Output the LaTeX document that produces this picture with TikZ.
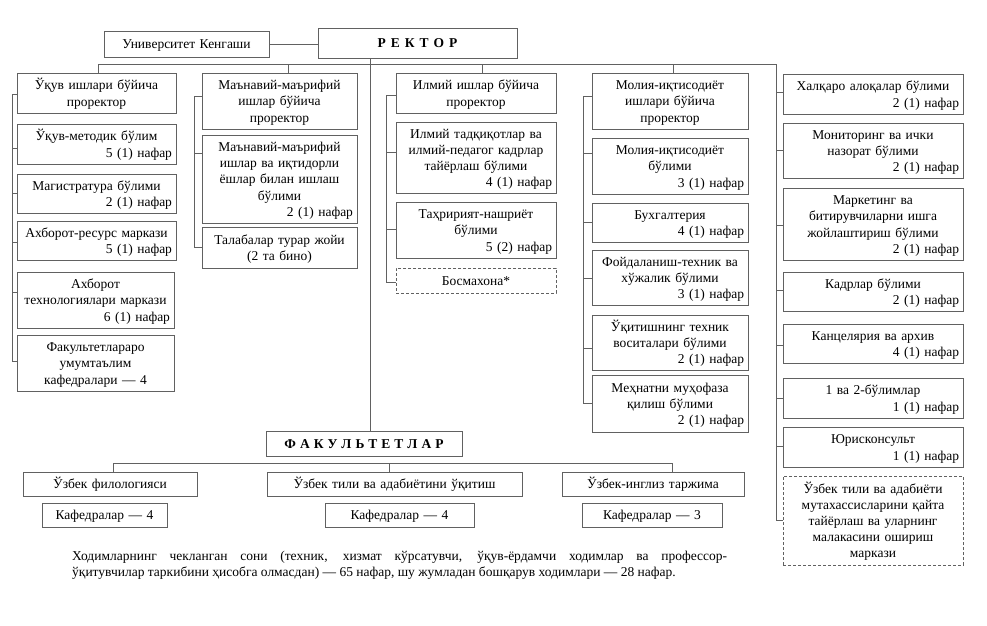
\documentclass[tikz,border=0pt]{standalone}
\usepackage{fontspec}
\setmainfont{Liberation Serif}
\colorlet{linec}{black!62}
\hyphenpenalty=10000
\newcommand\fs{\fontsize{13.5}{16.2}\selectfont}
\newcommand\rt{\\\hspace*{\fill}}
\newcommand\ls{\hspace{5pt}}
\newcommand\lsf{\hspace{4pt}}
\tikzset{
  box/.style={draw=linec, line width=0.8pt, inner xsep=4pt, inner ysep=1pt, font=\fs, align=center, text=black,
    execute at begin node=\rule{0pt}{14.8pt}, execute at end node=\rule[-4.86pt]{0pt}{0pt}},
  dbox/.style={box, dash pattern=on 3pt off 2pt},
  conn/.style={draw=linec, line width=0.8pt},
}
\newcommand\obox[7][box]{%
  \pgfmathsetmacro\bw{#5-#3}\pgfmathsetmacro\bh{#6-#4}\pgfmathsetmacro\tw{#5-#3-8}%
  \node[#1,minimum width=\bw pt,minimum height=\bh pt,text width=\tw pt] (#2) at ({(#3+#5)/2},{-(#4+#6)/2}) {#7};}
\begin{document}
\begin{tikzpicture}[x=1pt,y=1pt]
\useasboundingbox[fill=white] (0,0) rectangle (987,-625);
% top
\obox{ken}{104}{31}{269}{57}{Университет Кенгаши}
\obox{rek}{318}{28}{517}{58}{\textbf{Р\ls Е\ls К\ls Т\ls О\ls Р}}
% column 1
\obox{a1}{17}{73}{176}{113}{Ўқув ишлари бўйича\\проректор}
\obox{a2}{17}{124}{176}{164}{Ўқув-методик бўлим\rt 5 (1) нафар}
\obox{a3}{17}{174}{176}{213}{Магистратура бўлими\rt 2 (1) нафар}
\obox{a4}{17}{221}{176}{260}{Ахборот-ресурс маркази\rt 5 (1) нафар}
\obox{a5}{17}{272}{174}{328}{Ахборот\\технологиялари маркази\rt 6 (1) нафар}
\obox{a6}{17}{335}{174}{391}{Факультетлараро\\умумтаълим\\кафедралари — 4}
% column 2
\obox{b1}{202}{73}{357}{129}{Маънавий-маърифий\\ишлар бўйича\\проректор}
\obox{b2}{202}{135}{357}{223}{Маънавий-маърифий\\ишлар ва иқтидорли\\ёшлар билан ишлаш\\бўлими\rt 2 (1) нафар}
\obox{b3}{202}{227}{357}{268}{Талабалар турар жойи\\(2 та бино)}
% column 3
\obox{c1}{396}{73}{556}{113}{Илмий ишлар бўйича\\проректор}
\obox{c2}{396}{122}{556}{193}{Илмий тадқиқотлар ва\\илмий-педагог кадрлар\\тайёрлаш бўлими\rt 4 (1) нафар}
\obox{c3}{396}{202}{556}{258}{Таҳририят-нашриёт\\бўлими\rt 5 (2) нафар}
\obox[dbox]{c4}{396}{268}{556}{293}{Босмахона*}
% column 4
\obox{d1}{592}{73}{748}{129}{Молия-иқтисодиёт\\ишлари бўйича\\проректор}
\obox{d2}{592}{138}{748}{194}{Молия-иқтисодиёт\\бўлими\rt 3 (1) нафар}
\obox{d3}{592}{203}{748}{242}{Бухгалтерия\rt 4 (1) нафар}
\obox{d4}{592}{250}{748}{305}{Фойдаланиш-техник ва\\хўжалик бўлими\rt 3 (1) нафар}
\obox{d5}{592}{315}{748}{370}{Ўқитишнинг техник\\воситалари бўлими\rt 2 (1) нафар}
\obox{d6}{592}{375}{748}{432}{Меҳнатни муҳофаза\\қилиш бўлими\rt 2 (1) нафар}
% column 5
\obox{e1}{783}{74}{963}{114}{Халқаро алоқалар бўлими\rt 2 (1) нафар}
\obox{e2}{783}{123}{963}{178}{Мониторинг ва ички\\назорат бўлими\rt 2 (1) нафар}
\obox{e3}{783}{188}{963}{260}{Маркетинг ва\\битирувчиларни ишга\\жойлаштириш бўлими\rt 2 (1) нафар}
\obox{e4}{783}{272}{963}{311}{Кадрлар бўлими\rt 2 (1) нафар}
\obox{e5}{783}{324}{963}{363}{Канцелярия ва архив\rt 4 (1) нафар}
\obox{e6}{783}{378}{963}{418}{1 ва 2-бўлимлар\rt 1 (1) нафар}
\obox{e7}{783}{427}{963}{467}{Юрисконсульт\rt 1 (1) нафар}
\obox[dbox]{e8}{783}{476}{963}{565}{Ўзбек тили ва адабиёти\\мутахассисларини қайта\\тайёрлаш ва уларнинг\\малакасини ошириш\\маркази}
% faculties
\obox{fak}{266}{431}{462}{456}{\textbf{Ф\lsf А\lsf К\lsf У\lsf Л\lsf Ь\lsf Т\lsf Е\lsf Т\lsf Л\lsf А\lsf Р}}
\obox{g1}{23}{472}{197}{496}{Ўзбек филологияси}
\obox{g2}{267}{472}{522}{496}{Ўзбек тили ва адабиётини ўқитиш}
\obox{g3}{562}{472}{744}{496}{Ўзбек-инглиз таржима}
\obox{k1}{42}{503}{167}{527}{Кафедралар — 4}
\obox{k2}{325}{503}{474}{527}{Кафедралар — 4}
\obox{k3}{582}{503}{722}{527}{Кафедралар — 3}
% footer
\node[anchor=north west, inner sep=0pt, text width=655pt, align=justify, font=\fs] (foot) at (72,-551)
  {Ходимларнинг чекланган сони (техник, хизмат кўрсатувчи, ўқув-ёрдамчи ходимлар ва профессор-\linebreak ўқитувчилар таркибини ҳисобга олмасдан) — 65 нафар, шу жумладан бошқарув ходимлари — 28 нафар.};
% connectors
\draw[conn] (ken.east) -- (ken.east -| rek.west);
\coordinate (busL) at (98,-64);
\coordinate (busR) at (776,-64);
\coordinate (busE) at (776,-520);
\draw[conn] (busL) -- (busR) -- (busE);
\draw[conn] (busL) -- (busL |- a1.north);
\coordinate (t2) at (288,-64); \draw[conn] (t2) -- (t2 |- b1.north);
\coordinate (t3) at (482,-64); \draw[conn] (t3) -- (t3 |- c1.north);
\coordinate (t4) at (673,-64); \draw[conn] (t4) -- (t4 |- d1.north);
\coordinate (rv) at (370,-58); \draw[conn] (rv) -- (rv |- fak.north);
% column ticks
\draw[conn] (12,-94) -- (12,-361);
\foreach \n/\y in {a1/94,a2/148,a3/193,a4/242,a5/292,a6/361} \draw[conn] (12,-\y) -- (12,-\y -| \n.west);
\draw[conn] (194,-96) -- (194,-247);
\foreach \n/\y in {b1/96,b2/153,b3/247} \draw[conn] (194,-\y) -- (194,-\y -| \n.west);
\draw[conn] (386,-95) -- (386,-282);
\foreach \n/\y in {c1/95,c2/152,c3/229,c4/282} \draw[conn] (386,-\y) -- (386,-\y -| \n.west);
\draw[conn] (583,-96) -- (583,-403);
\foreach \n/\y in {d1/96,d2/153,d3/222,d4/278,d5/348,d6/403} \draw[conn] (583,-\y) -- (583,-\y -| \n.west);
\foreach \n/\y in {e1/92,e2/150,e3/225,e4/290,e5/345,e6/398,e7/446,e8/520} \draw[conn] (776,-\y) -- (776,-\y -| \n.west);
% faculties bus
\coordinate (fb1) at (113,-463);
\coordinate (fb2) at (389,-463);
\coordinate (fb3) at (672,-463);
\draw[conn] (fb1) -- (fb3);
\draw[conn] (fb1) -- (fb1 |- g1.north);
\draw[conn] (fb2) -- (fb2 |- g2.north);
\draw[conn] (fb3) -- (fb3 |- g3.north);
\end{tikzpicture}
\end{document}
